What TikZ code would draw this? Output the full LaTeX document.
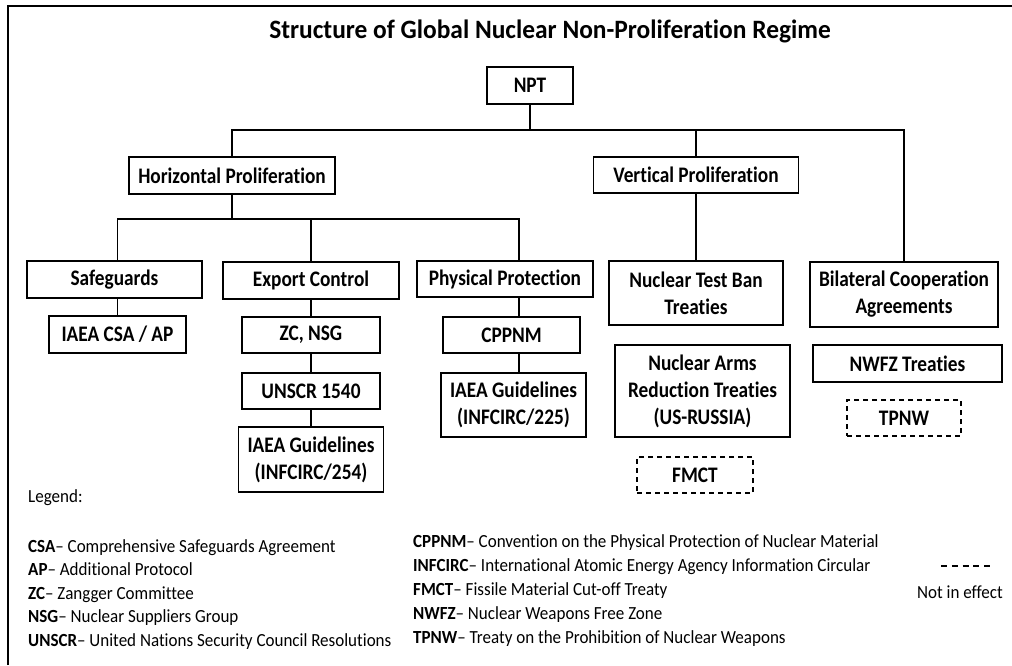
\documentclass[tikz,border=0pt]{standalone}
\usepackage{fontspec}
\setmainfont{Carlito}[FakeStretch=0.92,Ligatures=NoCommon]
\newfontfamily\boxfont{Carlito}[FakeStretch=0.87,Ligatures=NoCommon]
\newfontfamily\titlefont{Carlito}[FakeStretch=0.96,Ligatures=NoCommon]
\usepackage{tikz}
\usetikzlibrary{positioning}

\begin{document}
\begin{tikzpicture}[x=1pt,y=-1pt,
    box/.style={draw,line width=1.3pt,inner sep=0pt,align=center,
      font=\boxfont\fontsize{22.2}{27}\selectfont\bfseries},
    futurebox/.style={box,dash pattern=on 5pt off 4pt},
    link/.style={line width=1.3pt},
    legend/.style={anchor=base west,inner sep=0pt,
      font=\fontsize{18.5}{23.5}\selectfont}]
  \useasboundingbox (0,0) rectangle (1012,665);
  \draw[line width=2.4pt] (7.8,665) -- (7.8,5.8) -- (1012,5.8);

  \node[anchor=base,inner sep=0pt,font=\titlefont\fontsize{26.5}{32}\selectfont\bfseries] (title)
    at (550,38) {Structure of Global Nuclear Non-Proliferation Regime};

  % top of the tree
  \node[box,minimum width=86pt,minimum height=37pt] (npt) at (530,85.5) {NPT};
  \node[box,minimum width=206pt,minimum height=37pt] (hp) at (232,175.5) {Horizontal Proliferation};
  \node[box,minimum width=205pt,minimum height=36pt] (vp) at (696,175) {Vertical Proliferation};

  % horizontal branch
  \node[box,minimum width=175pt,minimum height=37pt] (sg) at (114.5,279.5) {Safeguards};
  \node[box,minimum width=176pt,minimum height=37pt] (ec) at (311,280.5) {Export Control};
  \node[box,minimum width=176pt,minimum height=36pt] (pp) at (505,279) {Physical Protection};
  \node[box,minimum width=137pt,minimum height=37pt] (csa) at (117.5,334.5) {IAEA CSA / AP};
  \node[box,minimum width=138pt,minimum height=36pt] (zc) at (311,335) {ZC, NSG};
  \node[box,minimum width=138pt,minimum height=36pt] (unscr) at (311,391) {UNSCR 1540};
  \node[box,minimum width=145pt,minimum height=65pt] (g254) at (311,459.5) {IAEA Guidelines\\(INFCIRC/254)};
  \node[box,minimum width=137pt,minimum height=36pt] (cppnm) at (511.5,335) {CPPNM};
  \node[box,minimum width=145pt,minimum height=64pt] (g225) at (513.5,405) {IAEA Guidelines\\(INFCIRC/225)};

  % vertical branch
  \node[box,minimum width=174pt,minimum height=64pt] (ntb) at (696,293) {Nuclear Test Ban\\Treaties};
  \node[box,minimum width=175pt,minimum height=92pt] (nart) at (702.5,391) {Nuclear Arms\\Reduction Treaties\\(US-RUSSIA)};
  \node[futurebox,minimum width=116pt,minimum height=36pt] (fmct) at (695,475) {FMCT};
  \node[box,minimum width=188pt,minimum height=65pt] (bil) at (904,294.5) {Bilateral Cooperation\\Agreements};
  \node[box,minimum width=189pt,minimum height=37pt] (nwfz) at (907.5,363.5) {NWFZ Treaties};
  \node[futurebox,minimum width=114pt,minimum height=36pt] (tpnw) at (904,418) {TPNW};

  % connectors
  \coordinate (bus1) at (530,130);
  \coordinate (bus2) at (232,219);
  \coordinate (ppx) at (519,0);
  \draw[link] (npt) -- (bus1);
  \draw[link] (hp) |- (bus1) -| (bil);
  \draw[link] (vp) -- (vp |- bus1);
  \draw[link] (vp) -- (ntb);
  \draw[link] (hp) -- (bus2);
  \draw[link] (sg.north -| csa) |- (bus2) -| (pp.north -| ppx);
  \draw[link] (ec) -- (ec |- bus2);
  \draw[link] (sg.south -| csa) -- (csa);
  \path[link] (ec) edge (zc)
              (zc) edge (unscr)
              (unscr) edge (g254);
  \draw[link] (pp.south -| ppx) -- (cppnm.north -| ppx)
              (cppnm.south -| ppx) -- (g225.north -| ppx);

  % legend
  \node[legend] (leg) at (28,502) {Legend:};
  \node[legend] (lcsa) at (28,552) {\textbf{CSA}– Comprehensive Safeguards Agreement};
  \node[legend] (lap) at (28,575.5) {\textbf{AP}– Additional Protocol};
  \node[legend] (lzc) at (28,599) {\textbf{ZC}– Zangger Committee};
  \node[legend] (lnsg) at (28,622) {\textbf{NSG}– Nuclear Suppliers Group};
  \node[legend] (lunscr) at (28,646) {\textbf{UNSCR}– United Nations Security Council Resolutions};
  \node[legend] (lcppnm) at (413,547) {\textbf{CPPNM}– Convention on the Physical Protection of Nuclear Material};
  \node[legend] (linf) at (413,571) {\textbf{INFCIRC}– International Atomic Energy Agency Information Circular};
  \node[legend] (lfmct) at (413,595) {\textbf{FMCT}– Fissile Material Cut-off Treaty};
  \node[legend] (lnwfz) at (413,619) {\textbf{NWFZ}– Nuclear Weapons Free Zone};
  \node[legend] (ltpnw) at (413,643) {\textbf{TPNW}– Treaty on the Prohibition of Nuclear Weapons};
  \coordinate (dl) at (941,566);
  \coordinate (dr) at (990,566);
  \draw[line width=1.8pt,dash pattern=on 6pt off 4.75pt] (dl) -- (dr);
  \node[inner sep=0pt,font=\fontsize{18.5}{23.5}\selectfont] (nie) at (960,592) {Not in effect};
\end{tikzpicture}
\end{document}
